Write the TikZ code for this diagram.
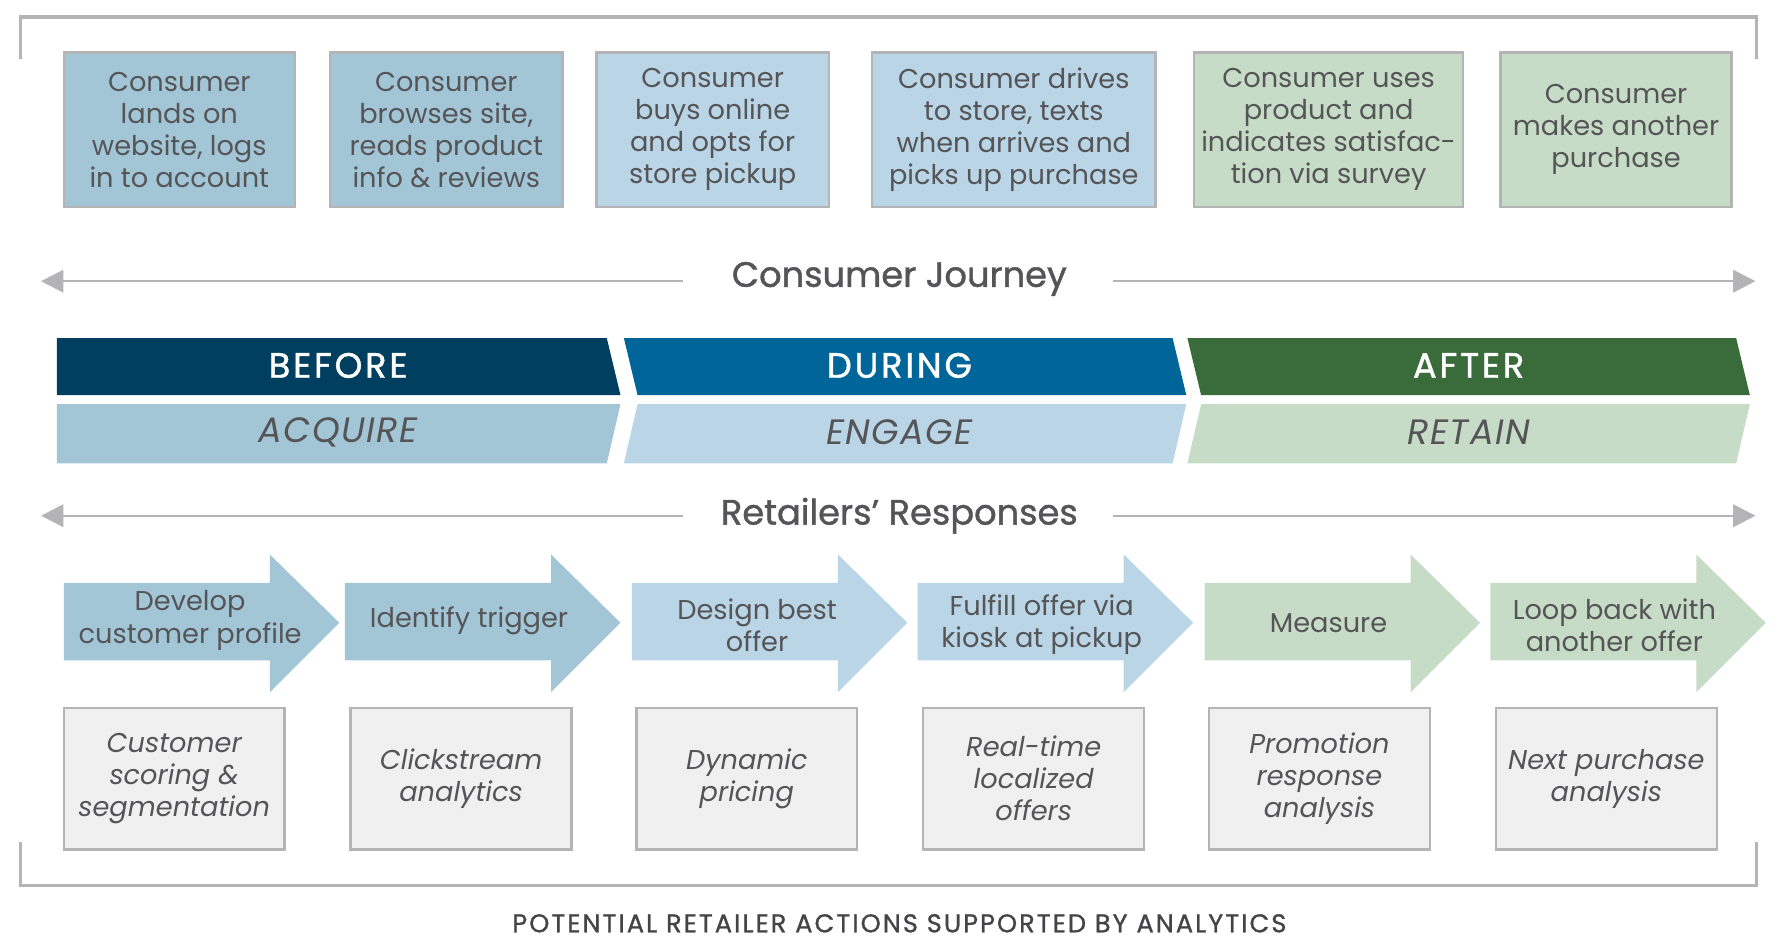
\documentclass[tikz,border=0pt]{standalone}
\usepackage{fontspec}
\setmainfont{Poppins}
\usetikzlibrary{arrows.meta}
\definecolor{txt}{HTML}{555558}
\definecolor{frame}{HTML}{B4B4B6}
\definecolor{blueA}{HTML}{A3C6D6}
\definecolor{blueB}{HTML}{B9D5E6}
\definecolor{greenA}{HTML}{C7DCC6}
\definecolor{navy}{HTML}{003F5F}
\definecolor{midblue}{HTML}{00669A}
\definecolor{forest}{HTML}{3A6B3A}
\tikzset{
  cstep/.style={draw=frame,line width=1.5pt,text=txt,align=center,font=\fontsize{17}{20}\selectfont,inner sep=0pt},
  tool/.style={cstep,fill=black!6,font=\fontsize{17}{20}\selectfont\itshape},
  lbl/.style={text=txt,align=center,font=\fontsize{17}{20}\selectfont},
  axis/.style={draw=frame,line width=1.5pt,-{Triangle[length=14pt,width=14pt]}},
}
\begin{document}
\begin{tikzpicture}[x=0.025cm,y=-0.025cm]
\useasboundingbox (0,0) rectangle (1560,836);
% outer brackets
\draw[frame,line width=2pt] (18,52) -- (18,15) -- (1543,15) -- (1543,52);
\draw[frame,line width=2pt] (18,740) -- (18,778) -- (1543,778) -- (1543,740);
% consumer steps
\node[cstep,fill=blueA,minimum width=5.075cm,minimum height=3.4cm] (c1) at (157.5,114) {Consumer\\lands on\\website, logs\\in to account};
\node[cstep,fill=blueA,minimum width=5.1cm,minimum height=3.4cm] (c2) at (392,114) {Consumer\\browses site,\\reads product\\info \& reviews};
\node[cstep,fill=blueB,minimum width=5.1cm,minimum height=3.4cm] (c3) at (626,114) {Consumer\\buys online\\and opts for\\store pickup};
\node[cstep,fill=blueB,minimum width=6.225cm,minimum height=3.4cm] (c4) at (890.5,114) {Consumer drives\\to store, texts\\when arrives and\\picks up purchase};
\node[cstep,fill=greenA,minimum width=5.9cm,minimum height=3.4cm] (c5) at (1167,114) {Consumer uses\\product and\\indicates satisfac-\\tion via survey};
\node[cstep,fill=greenA,minimum width=5.075cm,minimum height=3.4cm] (c6) at (1419.5,114) {Consumer\\makes another\\purchase};
% consumer journey axis
\node[text=txt,font=\fontsize{22}{26}\selectfont\addfontfeature{FakeBold=1.2}] (cj) at (790,245) {Consumer Journey};
\coordinate (cjL) at (36,247);
\coordinate (cjR) at (1542,247);
\draw[axis] (600,247) -- (cjL);
\draw[axis] (978,247) -- (cjR);
% phase bands
\fill[navy] (50,297) -- (533,297) -- (545,347) -- (50,347) -- cycle;
\fill[midblue] (548,297) -- (1030,297) -- (1042,347) -- (560,347) -- cycle;
\fill[forest] (1043,297) -- (1525,297) -- (1537,347) -- (1055,347) -- cycle;
\fill[blueA] (50,355) -- (545,355) -- (533,407) -- (50,407) -- cycle;
\fill[blueB] (560,355) -- (1042,355) -- (1030,407) -- (548,407) -- cycle;
\fill[greenA] (1055,355) -- (1537,355) -- (1525,407) -- (1043,407) -- cycle;
\foreach \name/\x/\t in {before/297/BEFORE,during/790/DURING,after/1290/AFTER}
  \node[white,font=\fontsize{22}{26}\selectfont\addfontfeature{LetterSpace=8,FakeBold=1.2}] (\name) at (\x,321) {\t};
\foreach \name/\x/\t in {acquire/297/ACQUIRE,engage/790/ENGAGE,retain/1290/RETAIN}
  \node[txt,font=\fontsize{22}{26}\selectfont\itshape\addfontfeature{LetterSpace=4}] (\name) at (\x,380) {\t};
% retailers axis
\node[text=txt,font=\fontsize{22}{26}\selectfont\addfontfeature{FakeBold=1.2}] (rr) at (790,453) {Retailers’ Responses};
\coordinate (rrL) at (36,453);
\coordinate (rrR) at (1542,453);
\draw[axis] (600,453) -- (rrL);
\draw[axis] (978,453) -- (rrR);
% response arrows
\foreach \x/\c in {56/blueA,303/blueA,555/blueB,806/blueB,1058/greenA,1309/greenA}
  \fill[\c] (\x,512) -- (\x+181,512) -- (\x+181,487) -- (\x+242,547) -- (\x+181,608) -- (\x+181,580) -- (\x,580) -- cycle;
\node[lbl] (r1) at (167,545) {Develop\\customer profile};
\node[lbl] (r2) at (412,545) {Identify trigger};
\node[lbl] (r3) at (665,549) {Design best\\offer};
\node[lbl] (r4) at (915,549) {Fulfill offer via\\kiosk at pickup};
\node[lbl] (r5) at (1167,547) {Measure};
\node[lbl] (r6) at (1418,549) {Loop back with\\another offer};
% analytics tools
\foreach \name/\x/\t in {t1/153/{Customer\\scoring \&\\segmentation},t2/405/{Clickstream\\analytics},t3/656/{Dynamic\\pricing},t4/908/{Real-time\\localized\\offers},t5/1159/{Promotion\\response\\analysis},t6/1411/{Next purchase\\analysis}}
  \node[tool,minimum width=4.85cm,minimum height=3.1cm] (\name) at (\x,684) {\t};
% caption
\node[text=txt!80!black,font=\fontsize{16}{20}\selectfont\addfontfeature{LetterSpace=8,FakeBold=1}] (cap) at (790,811) {POTENTIAL RETAILER ACTIONS SUPPORTED BY ANALYTICS};
\end{tikzpicture}
\end{document}
